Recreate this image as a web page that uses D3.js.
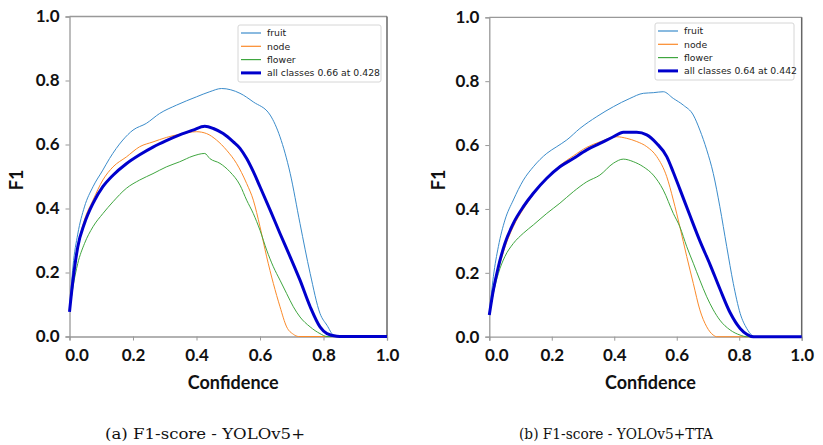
<!DOCTYPE html>
<html>
<head>
<meta charset="utf-8">
<script src="https://cdn.jsdelivr.net/npm/d3@7"></script>
<style>
  body { margin: 0; background: #fff; }
  svg { display: block; }
  .tick text { font-family: Lato, "Open Sans", sans-serif; font-weight: bold; font-size: 17px; fill: #111; }
  .axis-title { font-family: Lato, "Open Sans", sans-serif; font-weight: bold; font-size: 18px; fill: #111; }
  .legend text { font-family: "DejaVu Sans", sans-serif; font-size: 9.3px; fill: #222; }
  .caption { font-family: "DejaVu Serif", "Liberation Serif", serif; font-size: 15px; fill: #111; }
</style>
</head>
<body>
<div id="chart"></div>
<script>
// series names and legend labels
let classes = ["fruit", "node", "flower", "all"];
let colors = { fruit: "#3b8ccb", node: "#fb8a2a", flower: "#3fa63f", all: "#0000cc" };
let xTicks = [0, 0.2, 0.4, 0.6, 0.8, 1.0];
let yTicks = [0, 0.2, 0.4, 0.6, 0.8, 1.0];

// (a) YOLOv5+  -- [confidence, F1]
let fruitA = [[0,0.08],[0.011,0.22],[0.026,0.32],[0.047,0.405],[0.074,0.468],[0.105,0.52],[0.126,0.556],[0.168,0.614],[0.2,0.645],[0.242,0.666],[0.284,0.697],[0.337,0.723],[0.4,0.749],[0.442,0.765],[0.479,0.775],[0.537,0.76],[0.579,0.733],[0.632,0.692],[0.663,0.624],[0.695,0.51],[0.726,0.353],[0.758,0.197],[0.789,0.072],[0.811,0.035],[0.832,0.004],[0.85,0],[1,0]];
let nodeA = [[0,0.08],[0.011,0.186],[0.026,0.28],[0.047,0.364],[0.074,0.426],[0.105,0.489],[0.137,0.53],[0.179,0.561],[0.221,0.593],[0.263,0.608],[0.305,0.622],[0.347,0.632],[0.4,0.64],[0.432,0.634],[0.463,0.614],[0.495,0.582],[0.526,0.541],[0.558,0.478],[0.579,0.426],[0.6,0.343],[0.621,0.249],[0.642,0.166],[0.663,0.093],[0.684,0.03],[0.705,0.007],[0.721,0],[1,0]];
let flowerA = [[0,0.08],[0.011,0.155],[0.026,0.228],[0.047,0.29],[0.074,0.343],[0.105,0.384],[0.137,0.421],[0.179,0.463],[0.221,0.489],[0.263,0.509],[0.305,0.53],[0.347,0.546],[0.389,0.564],[0.426,0.572],[0.442,0.556],[0.474,0.541],[0.505,0.515],[0.537,0.473],[0.558,0.426],[0.579,0.384],[0.6,0.332],[0.621,0.27],[0.642,0.218],[0.663,0.176],[0.684,0.134],[0.705,0.093],[0.726,0.061],[0.758,0.03],[0.789,0.009],[0.811,0],[1,0]];
let allA = [[0,0.077],[0.011,0.176],[0.026,0.28],[0.047,0.353],[0.074,0.416],[0.105,0.468],[0.137,0.504],[0.179,0.54],[0.221,0.568],[0.263,0.592],[0.305,0.612],[0.347,0.63],[0.389,0.645],[0.426,0.657],[0.453,0.65],[0.484,0.634],[0.516,0.608],[0.537,0.588],[0.558,0.556],[0.579,0.515],[0.6,0.468],[0.632,0.395],[0.663,0.322],[0.695,0.249],[0.726,0.176],[0.758,0.093],[0.789,0.03],[0.811,0.009],[0.842,0.001],[0.86,0],[1,0]];

// (b) YOLOv5+TTA
let fruitB = [[0,0.068],[0.013,0.188],[0.029,0.282],[0.05,0.365],[0.077,0.428],[0.109,0.49],[0.141,0.532],[0.184,0.574],[0.216,0.595],[0.248,0.616],[0.29,0.652],[0.344,0.689],[0.397,0.72],[0.45,0.746],[0.493,0.762],[0.525,0.764],[0.557,0.767],[0.589,0.746],[0.621,0.725],[0.653,0.694],[0.674,0.647],[0.696,0.585],[0.717,0.511],[0.738,0.407],[0.76,0.282],[0.781,0.167],[0.803,0.073],[0.824,0.026],[0.84,0.005],[0.851,0],[1,0]];
let nodeB = [[0,0.068],[0.013,0.15],[0.029,0.21],[0.05,0.28],[0.077,0.345],[0.109,0.4],[0.141,0.445],[0.184,0.496],[0.226,0.536],[0.269,0.566],[0.312,0.593],[0.354,0.61],[0.408,0.626],[0.44,0.621],[0.472,0.611],[0.504,0.595],[0.536,0.564],[0.568,0.501],[0.589,0.428],[0.61,0.344],[0.632,0.251],[0.653,0.167],[0.674,0.084],[0.696,0.031],[0.717,0.005],[0.728,0],[1,0]];
let flowerB = [[0,0.068],[0.013,0.136],[0.029,0.198],[0.05,0.251],[0.077,0.292],[0.109,0.324],[0.141,0.35],[0.184,0.386],[0.226,0.418],[0.269,0.454],[0.312,0.485],[0.354,0.506],[0.397,0.543],[0.429,0.556],[0.461,0.548],[0.493,0.532],[0.525,0.506],[0.557,0.459],[0.589,0.386],[0.61,0.344],[0.632,0.282],[0.653,0.23],[0.674,0.177],[0.696,0.125],[0.717,0.084],[0.738,0.052],[0.771,0.021],[0.803,0.005],[0.824,0],[1,0]];
let allB = [[0,0.068],[0.013,0.146],[0.029,0.219],[0.05,0.292],[0.077,0.355],[0.109,0.407],[0.141,0.449],[0.184,0.496],[0.226,0.532],[0.269,0.558],[0.312,0.585],[0.354,0.605],[0.397,0.626],[0.429,0.64],[0.472,0.64],[0.504,0.632],[0.536,0.605],[0.568,0.564],[0.589,0.515],[0.61,0.462],[0.642,0.38],[0.674,0.3],[0.707,0.225],[0.738,0.15],[0.771,0.075],[0.803,0.026],[0.824,0.008],[0.845,0],[1,0]];

let legendA = ["fruit", "node", "flower", "all classes 0.66 at 0.428"];
let legendB = ["fruit", "node", "flower", "all classes 0.64 at 0.442"];
let captions = ["(a) F1-score - YOLOv5+", "(b) F1-score - YOLOv5+TTA"];

let panels = [
  { x0: 69.5, x1: 387, y0: 336.5, y1: 16.5, series: { fruit: fruitA, node: nodeA, flower: flowerA, all: allA },
    legend: legendA, lx: 238, ly: 25, lw: 143, caption: captions[0], cx: 205, cw: 200, fx: 17 },
  { x0: 489.3, x1: 801.7, y0: 336.7, y1: 17.3, series: { fruit: fruitB, node: nodeB, flower: flowerB, all: allB },
    legend: legendB, lx: 655, ly: 23, lw: 139, caption: captions[1], cx: 616, cw: 194, fx: 439 }
];

let svg = d3.select("#chart").append("svg")
    .attr("width", 823)
    .attr("height", 445);

panels.forEach(function(p) {
  let x = d3.scaleLinear().domain([0, 1]).range([p.x0, p.x1]);
  let y = d3.scaleLinear().domain([0, 1]).range([p.y0, p.y1]);
  let g = svg.append("g");

  // frame
  g.append("line").attr("x1", p.x0).attr("x2", p.x1).attr("y1", p.y1).attr("y2", p.y1)
      .attr("stroke", "#999").attr("stroke-width", 1.3);
  g.append("line").attr("x1", p.x1).attr("x2", p.x1).attr("y1", p.y1).attr("y2", p.y0)
      .attr("stroke", "#666").attr("stroke-width", 1.5);

  let xAxis = g.append("g")
      .attr("transform", "translate(0," + p.y0 + ")")
      .call(d3.axisBottom(x).tickValues(xTicks).tickFormat(d3.format(".1f")).tickSize(4).tickPadding(8));
  let yAxis = g.append("g")
      .attr("transform", "translate(" + p.x0 + ",0)")
      .call(d3.axisLeft(y).tickValues(yTicks).tickFormat(d3.format(".1f")).tickSize(4).tickPadding(6));
  [xAxis, yAxis].forEach(function(a) {
    a.select(".domain").attr("stroke", "#999").attr("stroke-width", 1.3);
    a.selectAll(".tick line").attr("stroke", "#999");
  });
  xAxis.selectAll(".tick text").filter(function(d) { return d === 0; }).attr("dx", 7);

  g.append("text").attr("class", "axis-title")
      .attr("x", (p.x0 + p.x1) / 2 + 5).attr("y", 389)
      .attr("text-anchor", "middle").text("Confidence");
  g.append("text").attr("class", "axis-title")
      .attr("transform", "translate(" + (p.fx + 6) + ",180) rotate(-90)")
      .attr("text-anchor", "middle").text("F1");

  let line = d3.line()
      .x(function(d) { return x(d[0]); })
      .y(function(d) { return y(d[1]); })
      .curve(d3.curveMonotoneX);

  classes.forEach(function(c) {
    g.append("path")
        .datum(p.series[c])
        .attr("fill", "none")
        .attr("stroke", colors[c])
        .attr("stroke-width", c === "all" ? 3 : 1)
        .attr("stroke-linejoin", "round")
        .attr("d", line);
  });

  // legend
  let lg = g.append("g").attr("class", "legend").attr("transform", "translate(" + p.lx + "," + p.ly + ")");
  lg.append("rect").attr("width", p.lw).attr("height", 57).attr("rx", 2)
      .attr("fill", "#fff").attr("fill-opacity", 0.8).attr("stroke", "#d6d6d6");
  classes.forEach(function(c, i) {
    let yy = 8 + i * 13.3;
    lg.append("line").attr("x1", 3).attr("x2", 23).attr("y1", yy).attr("y2", yy)
        .attr("stroke", colors[c]).attr("stroke-width", c === "all" ? 3 : 1.2);
    lg.append("text").attr("x", 29).attr("y", yy + 3.3).text(p.legend[i]);
  });

  svg.append("text").attr("class", "caption")
      .attr("x", p.cx).attr("y", 439).attr("text-anchor", "middle")
      .attr("textLength", p.cw).attr("lengthAdjust", "spacingAndGlyphs")
      .text(p.caption);
});
</script>
</body>
</html>
